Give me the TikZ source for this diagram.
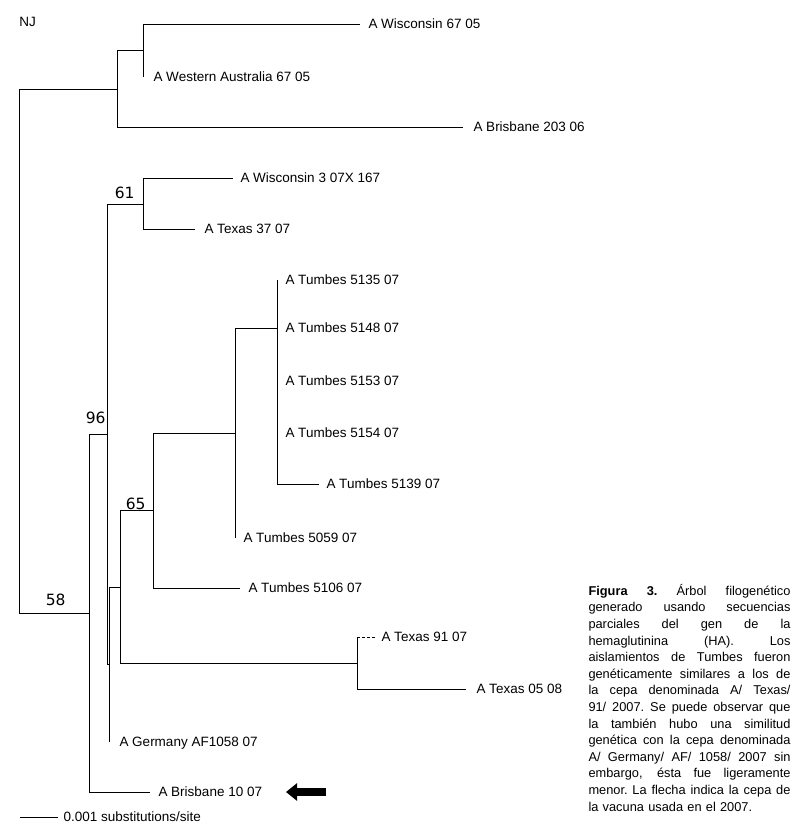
\documentclass[tikz,border=0pt]{standalone}
\usepackage{fontspec}
\setmainfont{Liberation Sans}
\newfontfamily\bootfont{DejaVu Sans}
\usepackage{tikz}
\usetikzlibrary{arrows.meta, positioning}

% one justified caption line: the free space is shared by the word gaps
\newcommand{\capline}[1]{\leavevmode\hbox to 202pt{\spaceskip=0.278em plus 1fil\relax\xspaceskip=\spaceskip #1}}

\begin{document}
\begin{tikzpicture}[x=1pt, y=-1pt, line width=1pt]
    \tikzset{
        tip/.style={font=\fontsize{13.5}{16}\selectfont, inner sep=0pt, text height=9.7pt, text depth=0pt},
        boot/.style={font=\bootfont\fontsize{15.5}{18}\selectfont, inner sep=0pt, anchor=base east},
        shortdash/.style={dash pattern=on 3pt off 2pt},
        pointer/.style={line width=8pt, -{Triangle[length=11pt, width=17pt]}},
        caption/.style={anchor=base west, inner sep=0pt, align=left, text width=202pt,
                        font=\fontsize{12.8}{16.6}\selectfont}
    }
    \useasboundingbox (0,0) rectangle (802,831);

    % --- INTERNAL NODES ---
    \coordinate (r)   at (19,351);   % root
    \coordinate (a)   at (117,89);
    \coordinate (b)   at (143,50.5);
    \coordinate (n58) at (89,613);
    \coordinate (n96) at (107,434);
    \coordinate (n61) at (143,204);
    \coordinate (g)   at (109,664);
    \coordinate (h)   at (120,587);
    \coordinate (n65) at (153,510);
    \coordinate (m)   at (235,433);
    \coordinate (p)   at (277,328);  % Tumbes polytomy
    \coordinate (k)   at (357,663);

    % --- TIPS ---
    \coordinate (wis67)  at (360,24);
    \coordinate (wa67)   at (143,77);
    \coordinate (bri203) at (463,127);
    \coordinate (wis3)   at (233,178);
    \coordinate (tex37)  at (195,229);
    \coordinate (t5135)  at (277,280);
    \coordinate (t5153)  at (277,381);
    \coordinate (t5154)  at (277,433);
    \coordinate (t5139)  at (319,484);
    \coordinate (t5059)  at (235,538);
    \coordinate (t5106)  at (240,588);
    \coordinate (tex91)  at (376,637);
    \coordinate (tex05)  at (466,689);
    \coordinate (ger)    at (109,742);
    \coordinate (bri10)  at (150,792);

    % --- BRANCHES ---
    \draw (r) |- (a)    (r) |- (n58);
    \draw (a) |- (b)    (a) |- (bri203);
    \draw (b) |- (wis67) (b) |- (wa67);
    \draw (n58) |- (n96) (n58) |- (bri10);
    \draw (n96) |- (n61) (n96) |- (g);
    \draw (n61) |- (wis3) (n61) |- (tex37);
    \draw (g) |- (h)    (g) |- (ger);
    \draw (h) |- (n65)  (h) |- (k);
    \draw (n65) |- (m)  (n65) |- (t5106);
    \draw (m) |- (p)    (m) |- (t5059);
    \draw (p) |- (t5135) (p) |- (t5153) (p) |- (t5154) (p) |- (t5139);
    \draw (k) -- (k |- tex91)  (k) |- (tex05);
    \draw[shortdash] (k |- tex91) -- (tex91);

    % --- TIP LABELS ---
    \node[tip, right=8pt of wis67]  (lwis67)  {A Wisconsin 67 05};
    \node[tip, right=10pt of wa67]  (lwa67)   {A Western Australia 67 05};
    \node[tip, right=10pt of bri203] (lbri203) {A Brisbane 203 06};
    \node[tip, right=7pt of wis3]   (lwis3)   {A Wisconsin 3 07X 167};
    \node[tip, right=9pt of tex37]  (ltex37)  {A Texas 37 07};
    \node[tip, right=8pt of t5135]  (l5135)   {A Tumbes\ 5135 07};
    \node[tip, right=8pt of p]      (l5148)   {A Tumbes 5148 07};
    \node[tip, right=8pt of t5153]  (l5153)   {A Tumbes 5153 07};
    \node[tip, right=8pt of t5154]  (l5154)   {A Tumbes 5154 07};
    \node[tip, right=7pt of t5139]  (l5139)   {A Tumbes 5139 07};
    \node[tip, right=8pt of t5059]  (l5059)   {A Tumbes 5059 07};
    \node[tip, right=8pt of t5106]  (l5106)   {A Tumbes 5106 07};
    \node[tip, right=5pt of tex91]  (ltex91)  {A Texas 91 07};
    \node[tip, right=10pt of tex05] (ltex05)  {A Texas 05 08};
    \node[tip, right=10pt of ger]   (lger)    {A Germany AF1058 07};
    \node[tip, right=8pt of bri10]  (lbri10)  {A Brisbane 10 07};

    % --- BOOTSTRAP VALUES ---
    \node[boot] (s61) at (135,198) {61};
    \node[boot] (s96) at (106,423) {96};
    \node[boot] (s65) at (146,509) {65};
    \node[boot] (s58) at (66,605)  {58};

    % --- METHOD, SCALE BAR, ARROW ---
    \node[anchor=base west, inner sep=0pt, font=\fontsize{13.5}{16}\selectfont] (nj) at (19,26) {NJ};
    \coordinate (bar0) at (20,817);
    \coordinate (bar1) at (58,817);
    \draw (bar0) -- (bar1);
    \node[tip, right=5pt of bar1] (lbar) {0.001 substitutions/site};
    \coordinate (ptail) at (326,792);
    \coordinate (phead) at (286,792);
    \draw[pointer] (ptail) -- (phead);

    % --- CAPTION ---
    \node[caption] (cap) at (588,595.3) {%
        \capline{\textbf{Figura 3.} Árbol filogenético}\\
        \capline{generado usando secuencias}\\
        \capline{parciales del gen de la}\\
        \capline{hemaglutinina (HA). Los}\\
        \capline{aislamientos de Tumbes fueron}\\
        \capline{genéticamente similares a los de}\\
        \capline{la cepa denominada A/ Texas/}\\
        \capline{91/ 2007. Se puede observar que}\\
        \capline{la también hubo una similitud}\\
        \capline{genética con la cepa denominada}\\
        \capline{A/ Germany/ AF/ 1058/ 2007 sin}\\
        \capline{embargo, ésta fue ligeramente}\\
        \capline{menor. La flecha indica la cepa de}\\
        la vacuna usada en el 2007.};

\end{tikzpicture}
\end{document}
